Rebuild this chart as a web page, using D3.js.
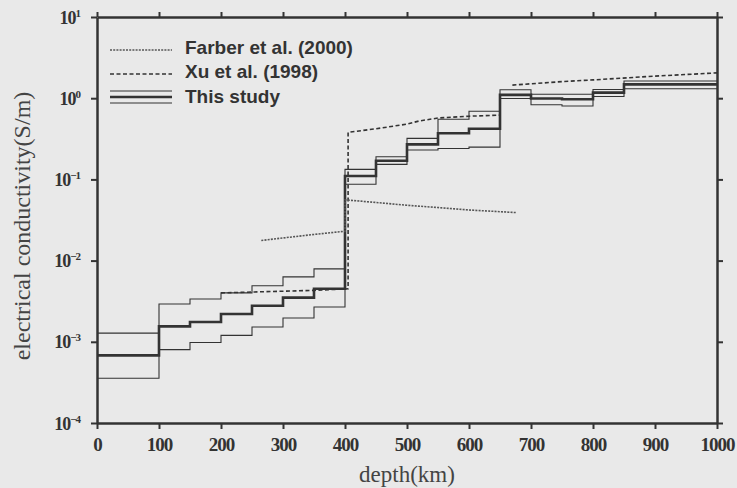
<!DOCTYPE html>
<html><head><meta charset="utf-8">
<script src="https://cdn.jsdelivr.net/npm/d3@7"></script>
<style>
body{margin:0;background:#e9e9e9;}
svg{display:block;background:#e9e9e9;}
</style>
</head><body>
<svg id="chart" width="737" height="488"></svg>
<script>
// ---------- data ----------
const stepDepths = [0,100,150,200,250,300,350,400,450,500,550,600,650,700,750,800,850,1000];
const thisStudyMid  = [6.8e-4,1.55e-3,1.75e-3,2.2e-3,2.78e-3,3.5e-3,4.5e-3,0.11,0.17,0.27,0.37,0.42,1.1,0.99,0.97,1.17,1.48];
const thisStudyHigh = [1.28e-3,2.92e-3,3.36e-3,4.0e-3,4.9e-3,6.3e-3,7.9e-3,0.133,0.19,0.32,0.55,0.69,1.27,1.12,1.12,1.28,1.63];
const thisStudyLow  = [3.56e-4,8.0e-4,9.8e-4,1.2e-3,1.52e-3,1.96e-3,2.68e-3,0.087,0.153,0.23,0.24,0.25,0.99,0.83,0.80,1.05,1.31];

const xuDepth = [200,250,300,350,405,405,450,500,520,550,600,650,660,670,750,800,900,1000];
const xuSigma = [4.0e-3,4.1e-3,4.2e-3,4.3e-3,4.5e-3,0.38,0.42,0.48,0.525,0.57,0.6,0.62,null,1.45,1.6,1.68,1.87,2.05];

const farberDepth = [265,300,350,400,400,450,500,550,600,677];
const farberSigma = [0.0177,0.019,0.021,0.023,0.056,0.052,0.048,0.045,0.042,0.039];

const xTickValues = [0,100,200,300,400,500,600,700,800,900,1000];
const yTickExponents = [-4,-3,-2,-1,0,1];
const legendLabels = ["Farber et al. (2000)","Xu et al. (1998)","This study"];
const xTitle = "depth(km)";
const yTitle = "electrical conductivity(S/m)";

// ---------- layout ----------
const ink = "#333";
const svg = d3.select("#chart");
const x = d3.scaleLinear().domain([0,1000]).range([97,717]);
const y = d3.scaleLog().domain([1e-4,10]).range([423,17]);

// ---------- series ----------
function stepPoints(vals){
  return stepDepths.map((d,i)=>({d, v: vals[Math.min(i, vals.length-1)]}));
}
const stepLine = d3.line().x(p=>x(p.d)).y(p=>y(p.v)).curve(d3.curveStepAfter);
const plainLine = d3.line().defined(p=>p.v!=null).x(p=>x(p.d)).y(p=>y(p.v));

const g = svg.append("g");
[[thisStudyHigh,1.1],[thisStudyLow,1.1],[thisStudyMid,2.6]].forEach(([vals,w])=>{
  g.append("path").datum(stepPoints(vals)).attr("d",stepLine)
    .attr("fill","none").attr("stroke",ink).attr("stroke-width",w);
});
g.append("path").datum(xuDepth.map((d,i)=>({d,v:xuSigma[i]}))).attr("d",plainLine)
  .attr("fill","none").attr("stroke",ink).attr("stroke-width",1.6).attr("stroke-dasharray","4,2.5");
g.append("path").datum(farberDepth.map((d,i)=>({d,v:farberSigma[i]}))).attr("d",plainLine)
  .attr("fill","none").attr("stroke","#555").attr("stroke-width",1.6).attr("stroke-dasharray","2,1.2");

// ---------- axes ----------
function styleAxis(sel){
  sel.select(".domain").attr("stroke",ink).attr("stroke-width",2.5);
  sel.selectAll(".tick line").attr("stroke",ink).attr("stroke-width",2);
}
const axBottom = svg.append("g").attr("transform","translate(0,423)")
  .call(d3.axisBottom(x).tickValues(xTickValues).tickSize(6).tickSizeOuter(0).tickPadding(9).tickFormat(d3.format("d")));
styleAxis(axBottom);
axBottom.selectAll(".tick text").attr("font-family","'Liberation Serif',serif").attr("font-weight","bold")
  .attr("font-size",19).attr("fill",ink).attr("letter-spacing",-1);

const axTop = svg.append("g").attr("transform","translate(0,17)")
  .call(d3.axisTop(x).tickValues(xTickValues).tickSize(5).tickSizeOuter(0).tickFormat(""));
styleAxis(axTop);

const yTickVals = yTickExponents.map(e=>Math.pow(10,e));
const axLeft = svg.append("g").attr("transform","translate(97,0)")
  .call(d3.axisLeft(y).tickValues(yTickVals).tickSize(6).tickSizeOuter(0).tickFormat(""));
styleAxis(axLeft);
axLeft.selectAll(".tick").each(function(v,i){
  const t = d3.select(this).append("text").attr("x",-17).attr("y",6)
    .attr("text-anchor","end").attr("font-family","'Liberation Serif',serif")
    .attr("font-weight","bold").attr("fill",ink).attr("font-size",18).attr("letter-spacing",-1);
  t.append("tspan").text("10");
  t.append("tspan").attr("dy",-7).attr("font-size",11).text(String(yTickExponents[i]).replace("-","\u2212"));
});

const axRight = svg.append("g").attr("transform","translate(717,0)")
  .call(d3.axisRight(y).tickValues(yTickVals).tickSize(6).tickSizeOuter(0).tickFormat(""));
styleAxis(axRight);

// ---------- titles ----------
svg.append("text").attr("x",407).attr("y",482).attr("text-anchor","middle")
  .attr("font-family","'Liberation Serif',serif").attr("font-size",23).attr("fill","#444").text(xTitle);
svg.append("text").attr("transform","translate(30,226) rotate(-90)").attr("text-anchor","middle")
  .attr("font-family","'Liberation Serif',serif").attr("font-size",24).attr("fill","#444").text(yTitle);

// ---------- legend ----------
const lg = svg.append("g");
const rowY = [48,72,97];
lg.append("line").attr("x1",110).attr("x2",172).attr("y1",rowY[0]+2).attr("y2",rowY[0]+2)
  .attr("stroke","#555").attr("stroke-width",1.6).attr("stroke-dasharray","2,1.2");
lg.append("line").attr("x1",110).attr("x2",172).attr("y1",rowY[1]+2).attr("y2",rowY[1]+2)
  .attr("stroke",ink).attr("stroke-width",1.6).attr("stroke-dasharray","4,2.5");
[[-6,1.1],[0,2.6],[6,1.1]].forEach(([dy,w])=>{
  lg.append("line").attr("x1",110).attr("x2",172).attr("y1",rowY[2]+dy).attr("y2",rowY[2]+dy)
    .attr("stroke",ink).attr("stroke-width",w);
});
legendLabels.forEach((s,i)=>{
  lg.append("text").attr("x",185).attr("y",rowY[i]+6).attr("font-family","'Liberation Sans',Arial,sans-serif")
    .attr("font-weight","bold").attr("font-size",19).attr("fill",ink).text(s);
});
</script>
</body></html>
